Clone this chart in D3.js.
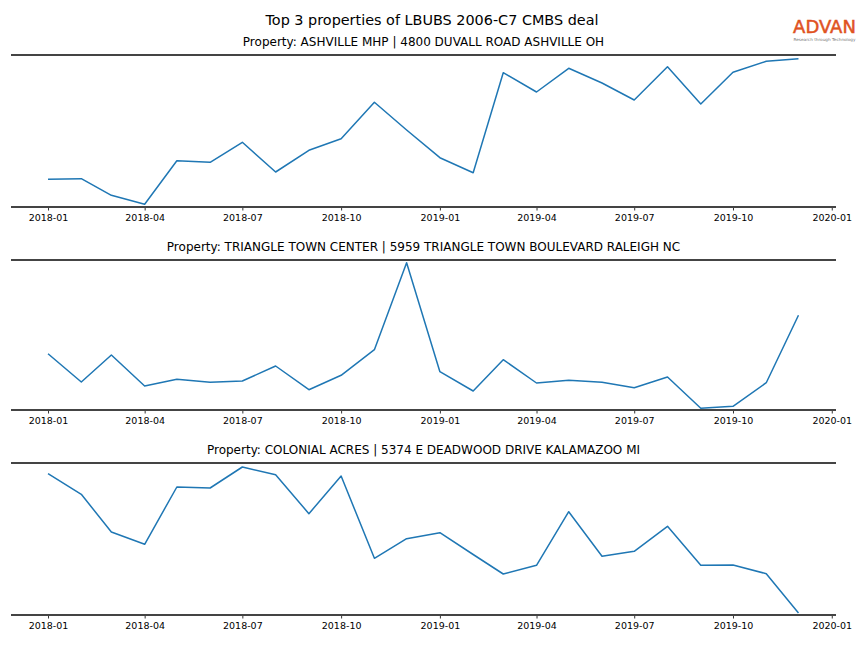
<!DOCTYPE html>
<html>
<head>
<meta charset="utf-8">
<script src="https://cdn.jsdelivr.net/npm/d3@7"></script>
<style>
  html, body { margin: 0; padding: 0; background: #fff; }
  svg { display: block; }
  text { font-family: "DejaVu Sans", sans-serif; }
</style>
</head>
<body>
<svg id="chart" width="864" height="648"></svg>
<script>
// ---- data ----
const months = ["2018-01","2018-02","2018-03","2018-04","2018-05","2018-06","2018-07","2018-08","2018-09","2018-10","2018-11","2018-12",
                "2019-01","2019-02","2019-03","2019-04","2019-05","2019-06","2019-07","2019-08","2019-09","2019-10","2019-11","2019-12"];
const titles = [
  "Property: ASHVILLE MHP | 4800 DUVALL ROAD ASHVILLE OH",
  "Property: TRIANGLE TOWN CENTER | 5959 TRIANGLE TOWN BOULEVARD RALEIGH NC",
  "Property: COLONIAL ACRES | 5374 E DEADWOOD DRIVE KALAMAZOO MI"
];
// relative activity index (no y-axis in the original)
const ashville = [27.7, 28.3, 11.7, 2.7, 46.3, 44.7, 64.7, 35, 56.7, 68.3, 104.7, 77,
                  49.3, 34.3, 134.3, 115, 138.7, 124, 107, 140.3, 103, 134.7, 145.7, 148.3];
const triangle = [56.3, 28, 55, 24, 30.7, 27.7, 29, 44, 20.3, 34.7, 60.3, 147.3,
                  38.3, 19, 50.3, 27, 29.7, 27.7, 22.3, 33, 1.7, 3.7, 27.3, 94.7];
const colonial = [141.3, 120.7, 83, 70.7, 128, 127, 148, 140.3, 101.3, 139, 56.7, 76.3,
                  82.3, 60.5, 41, 49.7, 103.3, 58.7, 63.7, 88.7, 49.7, 50, 41.3, 2];
const yDomains = [[0, 152], [0, 150], [0, 152]];
const tickLabels = ["2018-01","2018-04","2018-07","2018-10","2019-01","2019-04","2019-07","2019-10","2020-01"];
const suptitle = "Top 3 properties of LBUBS 2006-C7 CMBS deal";
const logoText = "ADVAN";
const logoTagline = "Research through Technology";

// ---- layout ----
const svg = d3.select("#chart");
const panels = [
  {top: 55, bottom: 207, values: ashville},
  {top: 260, bottom: 410, values: triangle},
  {top: 463, bottom: 615, values: colonial}
];
const left = 11, right = 836;
const parse = d3.timeParse("%Y-%m");
const dates = months.map(parse);
const d0 = dates[0], d1 = dates[dates.length - 1];
const span = d1 - d0;
const x = d3.scaleTime()
  .domain([new Date(+d0 - 0.05 * span), new Date(+d1 + 0.05 * span)])
  .range([10.5, 836]);

svg.append("text")
  .attr("x", 432).attr("y", 25)
  .attr("text-anchor", "middle")
  .attr("font-size", 14.4)
  .attr("fill", "#000")
  .text(suptitle);

// logo
const logo = svg.append("g").attr("transform", "translate(824.5,33)");
logo.append("text")
  .attr("x", 0).attr("y", 0)
  .attr("text-anchor", "middle")
  .attr("font-family", "Liberation Sans, Arial, sans-serif")
  .attr("font-size", 18)
  .attr("fill", "#e0531f")
  .attr("stroke", "#e0531f")
  .attr("stroke-width", 0.5)
  .text(logoText);
logo.append("text")
  .attr("x", 0).attr("y", 8)
  .attr("text-anchor", "middle")
  .attr("font-size", 4)
  .attr("textLength", 62)
  .attr("lengthAdjust", "spacingAndGlyphs")
  .attr("fill", "#777")
  .text(logoTagline);

panels.forEach((p, i) => {
  const y = d3.scaleLinear().domain(yDomains[i]).range([p.bottom, p.top]);
  const g = svg.append("g");

  g.append("text")
    .attr("x", (left + right) / 2).attr("y", p.top - 9)
    .attr("text-anchor", "middle")
    .attr("font-size", 12)
    .attr("fill", "#000")
    .text(titles[i]);

  const axis = d3.axisBottom(x)
    .tickValues(tickLabels.map(parse))
    .tickFormat(d3.timeFormat("%Y-%m"))
    .tickSize(3.5)
    .tickPadding(4);
  const ax = g.append("g")
    .attr("transform", `translate(0,${p.bottom})`)
    .call(axis);
  ax.select(".domain").remove();
  ax.selectAll(".tick line").attr("stroke", "#000").attr("stroke-width", 0.8);
  ax.selectAll(".tick text")
    .attr("font-family", "DejaVu Sans, sans-serif")
    .attr("font-size", 9.5)
    .attr("fill", "#000");

  const line = d3.line()
    .x((d, j) => x(dates[j]))
    .y(d => y(d));
  g.append("path")
    .datum(p.values)
    .attr("d", line)
    .attr("fill", "none")
    .attr("stroke", "#1f77b4")
    .attr("stroke-width", 1.5)
    .attr("stroke-linejoin", "round");

  [p.top, p.bottom].forEach(yy => {
    g.append("line")
      .attr("x1", left).attr("x2", right)
      .attr("y1", yy).attr("y2", yy)
      .attr("stroke", "#444")
      .attr("stroke-width", 2);
  });
});
</script>
</body>
</html>
